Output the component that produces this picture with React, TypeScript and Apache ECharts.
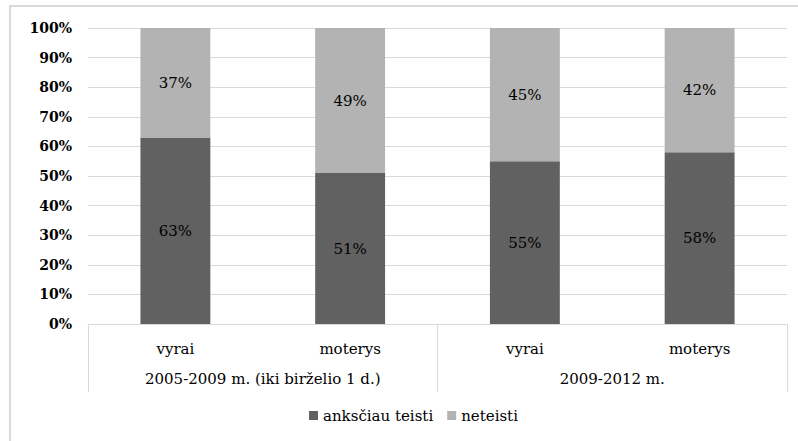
import React, { useEffect, useRef } from "react";
import * as echarts from "echarts";

const subCategories = ["vyrai", "moterys", "vyrai", "moterys"];
const groupCategories = ["2005-2009 m. (iki birželio 1 d.)", "2009-2012 m."];
const seriesNames = ["anksčiau teisti", "neteisti"];
const previouslyConvicted = [63, 51, 55, 58];
const notConvicted = [37, 49, 45, 42];

const FONT = "DejaVu Serif";

export default function App() {
  const ref = useRef<HTMLDivElement>(null);
  useEffect(() => {
    if (!ref.current) return;
    const chart = echarts.init(ref.current, null, { renderer: "svg" });
    const labelStyle = {
      show: true,
      position: "inside" as const,
      formatter: (p: any) => p.value + "%",
      color: "#000",
      fontFamily: FONT,
      fontSize: 15,
    };
    chart.setOption({
      animation: false,
      backgroundColor: "#fff",
      textStyle: { fontFamily: FONT },
      grid: { left: 88, right: 11, top: 28, bottom: 117, containLabel: false },
      graphic: [
        {
          type: "rect",
          shape: { x: 10, y: 6, width: 800, height: 500 },
          style: { fill: "none", stroke: "#d9d9d9", lineWidth: 2 },
          silent: true,
        },
      ],
      legend: {
        left: 304,
        top: 403,
        icon: "rect",
        itemWidth: 9,
        itemHeight: 9,
        itemGap: 14,
        textStyle: { fontFamily: FONT, fontSize: 15, color: "#000" },
        data: seriesNames,
      },
      xAxis: [
        {
          type: "category",
          data: subCategories,
          position: "bottom",
          axisLine: { show: true, lineStyle: { color: "#d9d9d9", width: 1 } },
          axisTick: { show: false },
          axisLabel: { color: "#000", fontFamily: FONT, fontSize: 15, margin: 17 },
        },
        {
          type: "category",
          data: groupCategories,
          position: "bottom",
          offset: 0,
          axisLine: { show: false },
          axisTick: { show: true, length: 68, lineStyle: { color: "#d9d9d9", width: 1 } },
          axisLabel: { color: "#000", fontFamily: FONT, fontSize: 15, margin: 47 },
        },
      ],
      yAxis: {
        type: "value",
        min: 0,
        max: 100,
        interval: 10,
        axisLine: { show: false },
        axisTick: { show: false },
        splitLine: { lineStyle: { color: "#d9d9d9", width: 1 } },
        axisLabel: {
          formatter: "{value}%",
          color: "#000",
          fontFamily: FONT,
          fontSize: 14,
          fontWeight: "bold",
          margin: 16,
        },
      },
      series: [
        {
          name: seriesNames[0],
          type: "bar",
          stack: "total",
          xAxisIndex: 0,
          barWidth: "40%",
          itemStyle: { color: "#616161" },
          label: labelStyle,
          data: previouslyConvicted,
        },
        {
          name: seriesNames[1],
          type: "bar",
          stack: "total",
          xAxisIndex: 0,
          barWidth: "40%",
          itemStyle: { color: "#b3b3b3" },
          label: labelStyle,
          data: notConvicted,
        },
      ],
    });
    return () => chart.dispose();
  }, []);
  return (
    <div
      ref={ref}
      style={{ position: "fixed", left: 0, top: 0, width: 798, height: 441 }}
    />
  );
}
